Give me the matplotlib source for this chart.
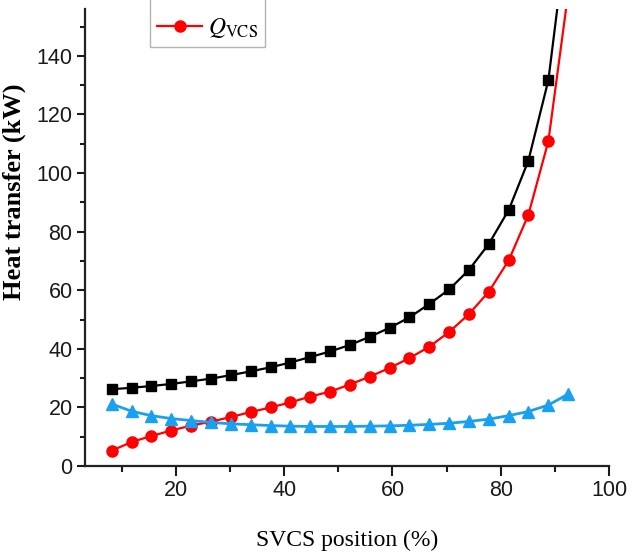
import numpy as np
import matplotlib
matplotlib.use("Agg")
from matplotlib import pyplot as plt
from matplotlib.ticker import MultipleLocator

plt.rcParams['font.family'] = ['Liberation Sans', 'DejaVu Sans']
plt.rcParams['mathtext.fontset'] = 'stix'

# valve opening (%)
svcs_pos = [8.1, 11.8, 15.4, 19.1, 22.8, 26.4, 30.1, 33.8, 37.5, 41.1, 44.8, 48.5,
            52.1, 55.8, 59.5, 63.1, 66.8, 70.5, 74.1, 77.8, 81.5, 85.1, 88.8, 92.5]
# heat transfer (kW)
q_total = [26.2, 26.7, 27.3, 28.0, 28.9, 29.8, 31.0, 32.3, 33.7, 35.3, 37.2, 39.1,
           41.3, 44.1, 47.2, 50.7, 55.3, 60.3, 66.9, 75.8, 87.5, 104.2, 131.7, 186.6]
q_vcs = [5.2, 8.2, 10.2, 12.1, 13.8, 15.1, 16.7, 18.4, 20.0, 21.7, 23.7, 25.4,
         27.8, 30.5, 33.5, 36.8, 40.7, 45.8, 51.8, 59.5, 70.3, 85.7, 110.9, 162.0]
q_other = [21.2, 18.7, 17.2, 16.2, 15.5, 14.9, 14.4, 14.1, 13.8, 13.6, 13.5, 13.5,
           13.5, 13.6, 13.7, 13.9, 14.2, 14.6, 15.2, 16.0, 17.2, 18.6, 20.8, 24.6]

fig = plt.figure(figsize=(6.36, 5.55), dpi=100)
ax = fig.add_axes([85/636, 1-466/555, 524/636, 457/555])

ax.plot(svcs_pos, q_total, color='black', lw=1.6, marker='s', ms=7)
red, = ax.plot(svcs_pos, q_vcs, color='#ff0000', lw=1.6, marker='o', ms=8)
ax.plot(svcs_pos, q_other, color='#1aa0f0', lw=2.0, marker='^', ms=8.5)

ax.set_xlim(3.2, 100)
ax.set_ylim(0, 156)
ax.xaxis.set_major_locator(MultipleLocator(20))
ax.xaxis.set_minor_locator(MultipleLocator(10))
ax.yaxis.set_major_locator(MultipleLocator(20))
ax.yaxis.set_minor_locator(MultipleLocator(10))

for s in ['top', 'right']:
    ax.spines[s].set_visible(False)
for s in ['left', 'bottom']:
    ax.spines[s].set_linewidth(1.6)
    ax.spines[s].set_color('#222222')

ax.tick_params(axis='x', which='major', length=7, width=1.5, pad=3, labelsize=15.5)
ax.tick_params(axis='x', which='minor', length=4, width=1.5)
ax.tick_params(axis='y', which='major', length=6, width=1.5, pad=3, labelsize=15.5)
ax.tick_params(axis='y', which='minor', length=3.5, width=1.5)
ax.tick_params(colors='#1a1a1a', which='both')

ax.set_xlabel('SVCS position (%)', family=['Liberation Serif'], fontsize=17)
ax.xaxis.set_label_coords(0.5, -0.14)
ax.set_ylabel('Heat transfer (kW)', family=['Liberation Serif'], fontsize=19, fontweight='bold')
ax.yaxis.set_label_coords(-0.113, 0.6)

leg = ax.legend([red], [r'$Q_{\mathrm{VCS}}$'], loc='lower left',
                bbox_to_anchor=(150/636, 1-47/555), bbox_transform=fig.transFigure,
                fancybox=False, fontsize=17, title=' ', title_fontsize=14,
                handlelength=1.9, handletextpad=0.25, borderpad=0.3, borderaxespad=0)
leg.get_frame().set_edgecolor('#a0a0a0')
leg.get_frame().set_linewidth(1.0)

fig.savefig('out.png', dpi=100)
